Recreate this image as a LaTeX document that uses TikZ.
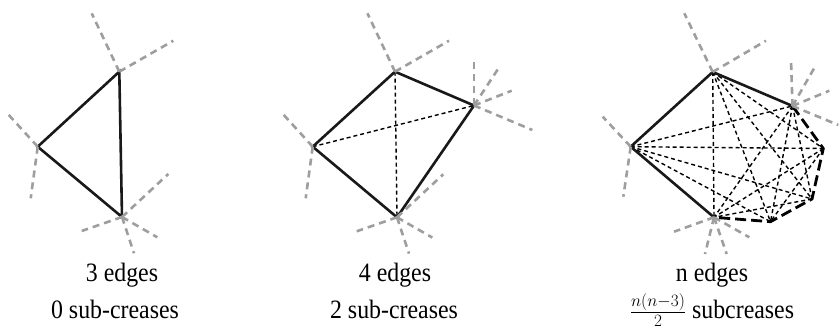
\documentclass[tikz,border=0pt]{standalone}
\usepackage{fontspec}
\setmainfont[FakeStretch=0.9]{Liberation Serif}
\begin{document}
\begin{tikzpicture}[x=1pt,y=-1pt,
  ray/.style={draw=black!38, line width=2.6pt, dash pattern=on 7pt off 5pt},
  edge/.style={draw=black!90, line width=2.6pt, line join=miter},
  diag/.style={draw=black, line width=1.4pt, dash pattern=on 4pt off 3pt},
  thickdash/.style={draw=black, line width=2.8pt, dash pattern=on 11pt off 5pt},
  lbl/.style={font=\fontsize{26.5}{30}\selectfont, inner sep=0pt, anchor=base}]
\useasboundingbox (0,0) rectangle (840,331);
% ---------- panel 1
\coordinate (A1) at (119.3,71.7);
\coordinate (B1) at (37.7,146.7);
\coordinate (C1) at (122,217);
\draw[edge] (A1) -- (B1) -- (C1) -- cycle;
\draw[ray] (A1) -- +(-27.6,-58.4);
\draw[ray] (A1) -- +(54,-31);
\draw[ray] (B1) -- +(-31,-34);
\draw[ray] (B1) -- +(-7,51.6);
\draw[ray] (C1) -- +(46.3,-43);
\draw[ray] (C1) -- +(-40.3,14);
\draw[ray] (C1) -- +(35.3,20.3);
\draw[ray] (C1) -- +(12,36.3);
% ---------- panel 2
\coordinate (A2) at (395,71.7);
\coordinate (B2) at (474,105.5);
\coordinate (C2) at (397,217.3);
\coordinate (D2) at (312.7,146.7);
\draw[diag] (A2) -- (C2);
\draw[diag] (D2) -- (B2);
\draw[edge] (A2) -- (B2) -- (C2) -- (D2) -- cycle;
\draw[ray] (A2) -- +(-27.6,-58.4);
\draw[ray] (A2) -- +(54,-31);
\draw[ray] (B2) -- +(0,-45.5);
\draw[ray] (B2) -- +(26,-39.5);
\draw[ray] (B2) -- +(37.7,-14.8);
\draw[ray] (B2) -- +(58.3,24.5);
\draw[ray] (C2) -- +(46.3,-43);
\draw[ray] (C2) -- +(-40.3,14);
\draw[ray] (C2) -- +(35.3,20.3);
\draw[ray] (C2) -- +(12,36.3);
\draw[ray] (D2) -- +(-31,-34);
\draw[ray] (D2) -- +(-7,51.6);
% ---------- panel 3
\coordinate (A3) at (712.7,72);
\coordinate (B3) at (792.5,106);
\coordinate (E3) at (823.3,148.5);
\coordinate (F3) at (812,199);
\coordinate (G3) at (770.5,221.7);
\coordinate (C3) at (714,217.3);
\coordinate (D3) at (630.7,146.7);
\foreach \p/\q in {D3/B3,D3/E3,D3/F3,D3/G3,A3/E3,A3/F3,A3/G3,A3/C3,B3/F3,B3/G3,B3/C3,E3/G3,E3/C3,F3/C3}
  \draw[diag] (\p) -- (\q);
\draw[edge] (C3) -- (D3) -- (A3) -- (B3);
\draw[thickdash] (B3) -- (E3) -- (F3) -- (G3) -- (C3);
\draw[ray] (A3) -- +(-28.4,-58.7);
\draw[ray] (A3) -- +(53.3,-31.3);
\draw[ray] (B3) -- +(-1.5,-46);
\draw[ray] (B3) -- +(22.5,-39.3);
\draw[ray] (B3) -- +(36.8,-15.3);
\draw[ray] (B3) -- +(45.8,19);
\draw[ray] (D3) -- +(-28,-30);
\draw[ray] (D3) -- +(-7.4,50);
\draw[ray] (C3) -- +(-40,14.4);
\draw[ray] (C3) -- +(35.3,20);
\draw[ray] (C3) -- +(12.7,36.7);
\draw[ray] (C3) -- +(-9,36.7);
% ---------- labels
\node[lbl] (t1) at (122,281) {3 edges};
\node[lbl] (s1) at (115,318) {0 sub-creases};
\node[lbl] (t2) at (395,281) {4 edges};
\node[lbl] (s2) at (394,318) {2 sub-creases};
\node[lbl] (t3) at (712,281) {n edges};
\node[lbl] (s3) at (712,318) {$\frac{n(n-3)}{2}$ subcreases};
\end{tikzpicture}
\end{document}
